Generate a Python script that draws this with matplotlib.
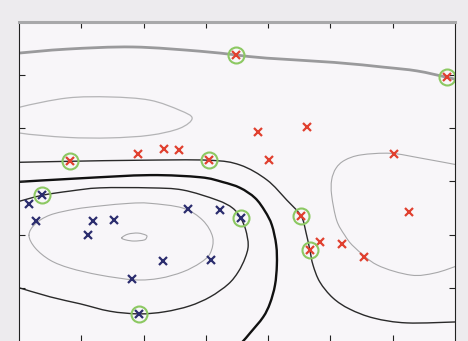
import numpy as np
import matplotlib
matplotlib.use('Agg')
import matplotlib.pyplot as plt
from matplotlib.path import Path
from matplotlib.patches import PathPatch

# class +1 samples (red) and class -1 samples (blue)
red_x = [3.48, 6.87, 0.82, 1.91, 2.33, 2.57, 3.05, 3.84, 4.62, 4.01, 6.02, 6.26, 4.53, 4.83, 4.67, 5.18, 5.54]
red_y = [5.38, 4.96, 3.38, 3.52, 3.61, 3.59, 3.40, 3.93, 4.02, 3.40, 3.52, 2.42, 2.35, 1.86, 1.71, 1.82, 1.58]
red_sv = [0, 1, 2, 6, 12, 14]

blue_x = [0.37, 0.16, 0.27, 1.19, 1.52, 1.11, 2.71, 3.23, 3.56, 2.31, 3.08, 1.81, 1.93]
blue_y = [2.74, 2.58, 2.26, 2.26, 2.27, 1.99, 2.48, 2.46, 2.31, 1.50, 1.52, 1.17, 0.51]
blue_sv = [0, 8, 12]

# contours of constant y(x)
boundary_x = [-0.05, 0.98, 2.10, 2.91, 3.27, 3.55, 3.79, 3.95, 4.06, 4.13, 4.14, 4.11, 4.03, 3.92, 3.71, 3.60, 3.52]
boundary_y = [2.99, 3.06, 3.12, 3.08, 2.99, 2.88, 2.69, 2.44, 2.18, 1.80, 1.43, 1.05, 0.71, 0.45, 0.15, 0.0, -0.09]

margin_pos_x = [-0.05, 0.82, 1.94, 3.05, 3.55, 3.98, 4.30, 4.53, 4.61, 4.67, 4.72, 4.83, 5.04, 5.31, 5.70, 6.23, 7.05]
margin_pos_y = [3.36, 3.38, 3.40, 3.40, 3.31, 3.03, 2.65, 2.35, 2.03, 1.71, 1.43, 1.11, 0.81, 0.60, 0.43, 0.34, 0.36]

margin_neg_x = [-0.05, 0.37, 0.82, 1.30, 2.10, 2.63, 3.18, 3.43, 3.56, 3.64, 3.68, 3.63, 3.52, 3.36,
                3.07, 2.74, 2.34, 1.93, 1.46, 0.98, 0.50, -0.05]
margin_neg_y = [2.61, 2.74, 2.82, 2.88, 2.88, 2.84, 2.65, 2.50, 2.31, 2.09, 1.80, 1.56, 1.30, 1.07,
                0.83, 0.66, 0.55, 0.51, 0.56, 0.70, 0.83, 1.02]

top_x = [-0.05, 0.77, 1.83, 2.91, 3.48, 3.98, 5.06, 5.86, 6.39, 6.87, 7.05]
top_y = [5.41, 5.49, 5.53, 5.45, 5.38, 5.32, 5.24, 5.15, 5.08, 4.96, 4.91]

right_x = [7.05, 6.45, 5.97, 5.49, 5.23, 5.09, 5.02, 5.02, 5.10, 5.23, 5.38, 5.75, 6.29, 6.68, 7.05]
right_y = [3.31, 3.44, 3.53, 3.50, 3.40, 3.25, 3.03, 2.74, 2.27, 1.99, 1.77, 1.43, 1.24, 1.28, 1.42]

# closed loops
upper_loop_x = [-0.22, -0.14, 0.02, 0.77, 1.46, 2.10, 2.58, 2.78, 2.58, 2.10, 1.46, 0.77, 0.02, -0.14]
upper_loop_y = [4.15, 4.30, 4.40, 4.57, 4.59, 4.53, 4.34, 4.19, 4.00, 3.87, 3.82, 3.83, 3.91, 4.00]

inner_loop_x = [0.16, 0.26, 0.50, 0.90, 1.30, 1.78, 2.10, 2.63, 2.95, 3.11, 3.07, 2.91, 2.63, 2.26,
                1.86, 1.30, 0.82, 0.50, 0.26]
inner_loop_y = [1.99, 2.20, 2.37, 2.48, 2.54, 2.59, 2.59, 2.50, 2.27, 1.95, 1.65, 1.47, 1.30, 1.18,
                1.15, 1.24, 1.37, 1.52, 1.75]

core_loop_x = [1.65, 1.75, 1.91, 2.04, 2.05, 2.01, 1.85, 1.72]
core_loop_y = [1.94, 2.01, 2.03, 1.99, 1.95, 1.90, 1.88, 1.90]


def smooth_path(xs, ys, closed=False):
    # Catmull-Rom through the points, drawn as cubic Bezier segments
    pts = np.column_stack([xs, ys]).astype(float)
    n = len(pts)
    verts = [pts[0]]
    codes = [Path.MOVETO]
    segs = n if closed else n - 1
    for i in range(segs):
        if closed:
            p0, p1, p2, p3 = pts[(i - 1) % n], pts[i], pts[(i + 1) % n], pts[(i + 2) % n]
        else:
            p0 = pts[i - 1] if i > 0 else pts[i]
            p1, p2 = pts[i], pts[i + 1]
            p3 = pts[i + 2] if i + 2 < n else pts[i + 1]
        verts += [p1 + (p2 - p0) / 6, p2 - (p3 - p1) / 6, p2]
        codes += [Path.CURVE4] * 3
    return Path(verts, codes)


def draw_curve(ax, xs, ys, color, lw, closed=False):
    ax.add_patch(PathPatch(smooth_path(xs, ys, closed), facecolor='none',
                           edgecolor=color, lw=lw, capstyle='round', joinstyle='round'))


fig = plt.figure(figsize=(4.68, 3.41), dpi=100, facecolor='#edebee')
ax = fig.add_axes([0.0406, 0.0, 0.9316, 0.9355])
ax.set_facecolor('#f8f6f9')

draw_curve(ax, top_x, top_y, '#9a9a9c', 2.0)
draw_curve(ax, upper_loop_x, upper_loop_y, '#b4b4b6', 0.9, closed=True)
draw_curve(ax, inner_loop_x, inner_loop_y, '#a8a8aa', 0.8, closed=True)
draw_curve(ax, core_loop_x, core_loop_y, '#a8a8aa', 0.8, closed=True)
draw_curve(ax, right_x, right_y, '#a8a8aa', 0.8)
draw_curve(ax, margin_pos_x, margin_pos_y, '#2a2a2a', 1.0)
draw_curve(ax, margin_neg_x, margin_neg_y, '#2a2a2a', 1.0)
draw_curve(ax, boundary_x, boundary_y, '#111111', 1.7)

ax.plot(red_x, red_y, 'x', color='#e0402f', ms=6, mew=1.6, linestyle='none')
ax.plot(blue_x, blue_y, 'x', color='#2b2d6e', ms=6, mew=1.6, linestyle='none')

sv_x = [red_x[i] for i in red_sv] + [blue_x[i] for i in blue_sv]
sv_y = [red_y[i] for i in red_sv] + [blue_y[i] for i in blue_sv]
ax.plot(sv_x, sv_y, 'o', ms=11.5, mfc='none', mec='#8cc862', mew=1.5, linestyle='none')

ax.set_xlim(0, 7)
ax.set_ylim(0, 6)
ax.set_xticks(range(1, 7))
ax.set_yticks(range(1, 6))
ax.tick_params(direction='in', length=4, width=0.8, top=True, right=True,
               labelbottom=False, labelleft=False, color='#222222')

ax.spines['left'].set_color('#222222')
ax.spines['right'].set_color('#222222')
ax.spines['top'].set_color('#a8a8aa')
ax.spines['top'].set_linewidth(2.2)
ax.spines['bottom'].set_visible(False)

fig.savefig('out.png', dpi=100, facecolor=fig.get_facecolor())
